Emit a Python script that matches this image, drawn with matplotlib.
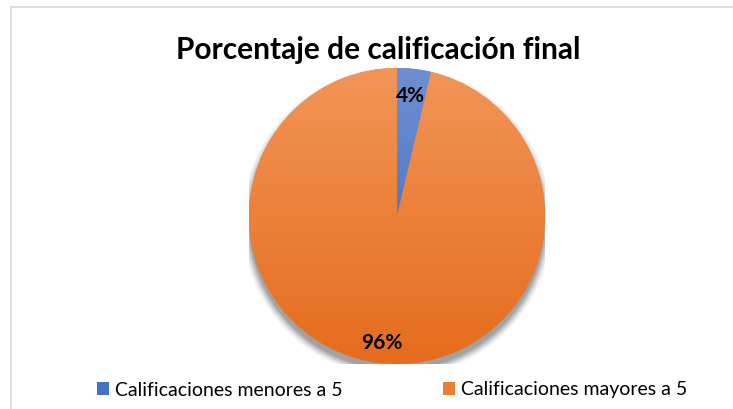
import numpy as np
import matplotlib.pyplot as plt
from matplotlib.patches import Rectangle, Circle, Patch
from matplotlib.colors import LinearSegmentedColormap

categorias = ['Calificaciones menores a 5', 'Calificaciones mayores a 5']
porcentajes = [3.7, 96.3]
colores = ['#4472C4', '#ED7D31']
grad_claro = ['#6E8FD2', '#F29557']
grad_oscuro = ['#3B66B8', '#E56C1C']

W, H = 733, 409
fig = plt.figure(figsize=(W / 100, H / 100), dpi=100)
plt.rcParams['font.family'] = ['Lato', 'DejaVu Sans']

# marco gris del gráfico
fig.patches.append(Rectangle((11 / W, -0.05), 1.0, 1 - 7 / H + 0.05,
                             transform=fig.transFigure, facecolor='none',
                             edgecolor='#D9D9D9', linewidth=1.2, zorder=-1))

cx, cy, r = 397, 216, 148
ax = fig.add_axes([(cx - r) / W, (H - cy - r) / H, 2 * r / W, 2 * r / H])

wedges, _ = ax.pie(porcentajes, colors=colores, startangle=90, counterclock=False,
                   radius=1.0, wedgeprops=dict(linewidth=0, zorder=1))

# sombra
for i, a in enumerate(np.linspace(0.04, 0.14, 8)):
    ax.add_patch(Circle((0.0, -0.04), 1.0 + 0.05 * (1 - i / 7), facecolor='black',
                        edgecolor='none', alpha=a * 0.6, zorder=0))

for w, c1, c2 in zip(wedges, grad_claro, grad_oscuro):
    cmap = LinearSegmentedColormap.from_list('g', [c2, c1])
    grad = np.linspace(0, 1, 256).reshape(-1, 1)
    im = ax.imshow(grad, extent=[-1, 1, -1, 1], origin='lower', cmap=cmap,
                   aspect='auto', zorder=2)
    im.set_clip_path(w)

ax.set_xlim(-1.0, 1.0)
ax.set_ylim(-1.0, 1.0)
ax.set_aspect('auto')
ax.axis('off')

# etiquetas de porcentaje
for p, (dx, dy) in zip(porcentajes, [(0.09, 0.81), (-0.10, -0.86)]):
    ax.text(dx, dy, f'{p:.0f}%', ha='center', va='center', fontsize=15,
            fontweight='bold', color='black', zorder=5)

fig.text(378 / W, 1 - 50 / H, 'Porcentaje de calificación final', ha='center',
         va='center', fontsize=21.5, fontweight='bold')

handles = [Patch(facecolor=c, edgecolor='none') for c in colores]
fig.legend(handles, categorias, loc='center', bbox_to_anchor=(392 / W, 1 - 390 / H),
           ncol=2, frameon=False, fontsize=14, handlelength=0.6, handleheight=0.6,
           handletextpad=0.3, columnspacing=5.2, borderaxespad=0)

fig.savefig('out.png', dpi=100)
